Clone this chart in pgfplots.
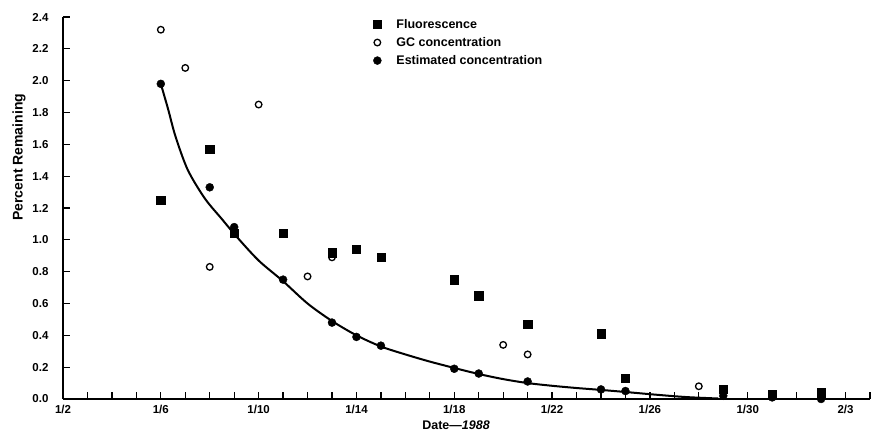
\documentclass[border=0pt]{standalone}
\usepackage{fontspec}
\setmainfont{Liberation Sans}
\usepackage{pgfplots}
\pgfplotsset{compat=1.18}
\usetikzlibrary{calc}

\begin{document}
\begin{tikzpicture}
\begin{axis}[
  scale only axis, width=807pt, height=382pt,
  xmin=2, xmax=35, ymin=0, ymax=2.4,
  axis lines=left, axis line style={-, line width=1.6pt},
  clip=false,
  xtick={2,6,10,14,18,22,26,30,34},
  xticklabels={1/2,1/6,1/10,1/14,1/18,1/22,1/26,1/30,2/3},
  minor xtick={2,...,35},
  ytick={0,0.2,0.4,0.6,0.8,1.0,1.2,1.4,1.6,1.8,2.0,2.2,2.4},
  tick align=inside,
  major tick length=7pt, minor tick length=7pt,
  every tick/.style={black, line width=1.2pt},
  minor tick style={black, line width=1.2pt},
  tick label style={font=\bfseries\fontsize{11.5}{13}\selectfont},
  yticklabel style={xshift=-11pt},
  xticklabel style={yshift=-3pt},
  /pgf/number format/.cd, fixed, fixed zerofill, precision=1, assume math mode=true,
  /pgfplots/.cd,
  xlabel={Date\textemdash\textit{1988}},
  ylabel={Percent Remaining},
  xlabel style={at={(ticklabel cs:0.487)}, font=\bfseries\fontsize{12.5}{14}\selectfont},
  ylabel style={at={(ticklabel cs:0.633)}, font=\bfseries\fontsize{14}{16}\selectfont},
  legend style={draw=none, fill=none, at={(0.384,1.0)}, anchor=north west,
    font=\bfseries\fontsize{12.5}{14}\selectfont, row sep=3.5pt, inner sep=0pt},
  legend image code/.code={\path[draw=none] (-0.15cm,0cm) -- (0.6cm,0cm); \draw[#1] plot coordinates {(0cm,0cm)};},
  legend cell align=left,
]
% fitted curve
\addplot[smooth, line width=2pt, forget plot] coordinates {
  (6,1.98)(6.3,1.82)(6.6,1.65)(7.1,1.44)(7.8,1.26)(8.5,1.13)(9.1,1.02)
  (10,0.87)(11,0.74)(12,0.60)(13,0.49)(14,0.40)(15,0.33)(16,0.28)(17,0.235)
  (18,0.195)(19,0.157)(20,0.125)(21,0.10)(22,0.083)(23,0.069)(24,0.057)
  (25,0.044)(26.4,0.025)(27.5,0.012)(28.8,0.003)
};
\addplot[only marks, mark=square*, mark size=4.2pt, black] coordinates {
  (6,1.25)(8,1.57)(9,1.04)(11,1.04)(13,0.92)(14,0.94)(15,0.89)(18,0.75)
  (19,0.65)(21,0.47)(24,0.41)(25,0.13)(29,0.06)(31,0.03)(33,0.04)
};
\addplot[only marks, mark=o, mark size=3.3pt, black, mark options={line width=1.3pt}] coordinates {
  (6,2.32)(7,2.08)(8,0.83)(10,1.85)(12,0.77)(13,0.89)(20,0.34)(21,0.28)(28,0.08)
};
\addplot[only marks, mark=*, mark size=4pt, black] coordinates {
  (6,1.98)(8,1.33)(9,1.08)(11,0.75)(13,0.48)(14,0.39)(15,0.335)(18,0.19)
  (19,0.16)(21,0.11)(24,0.06)(25,0.05)(29,0.02)(31,0.01)(33,0.0)
};
\legend{Fluorescence, GC concentration, Estimated concentration}
\end{axis}
\path ($(current axis.south west)+(-63pt,-39pt)$) rectangle ($(current axis.north east)+(3pt,17pt)$);
\end{tikzpicture}
\end{document}
